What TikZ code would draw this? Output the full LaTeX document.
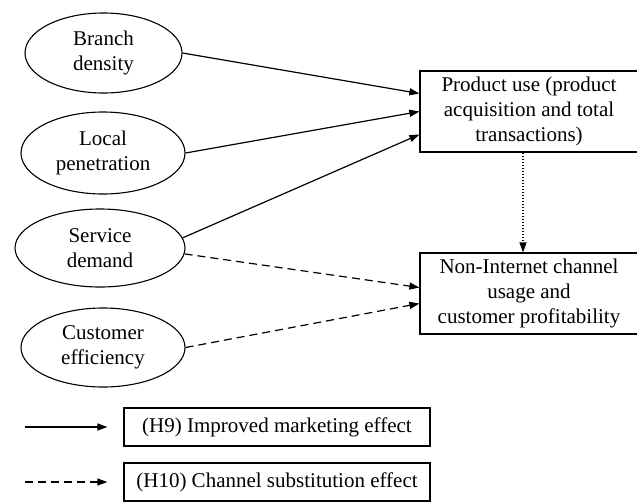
\documentclass[tikz,border=0pt]{standalone}
\usepackage{fontspec}
\setmainfont{Liberation Serif}
\usetikzlibrary{shapes.geometric,arrows.meta}
\tikzset{
  construct/.style={draw, ellipse, line width=1.1pt, inner sep=0pt,
    minimum width=164pt, minimum height=80pt, align=center},
  outcome/.style={draw, rectangle, line width=1.2pt,
    minimum width=218pt, minimum height=81pt, align=center},
  legendbox/.style={draw, rectangle, line width=1.2pt,
    minimum width=306pt, minimum height=38pt},
  effect/.style={line width=1.2pt, -{Triangle[length=10pt,width=7pt]}},
  subst/.style={effect, dash pattern=on 8pt off 5pt},
  mediate/.style={effect, dash pattern=on 1pt off 2pt},
}

\begin{document}
\begin{tikzpicture}[x=1pt, y=-1pt, every node/.style={font=\fontsize{21}{25}\selectfont}]
\useasboundingbox (0,0) rectangle (637,501);
% drivers
\node[construct, minimum width=157pt] (branch) at (103.5,53) {Branch\\density};
\node[construct, minimum height=82pt] (local) at (103,153) {Local\\penetration};
\node[construct, minimum width=170pt, minimum height=78pt] (service) at (100,248) {Service\\demand};
\node[construct, minimum height=79pt] (efficiency) at (103,347.5) {Customer\\efficiency};
% outcomes
\node[outcome] (product) at (529,111.5) {Product use (product\\acquisition and total\\transactions)};
\node[outcome] (channel) at (529,293.5) {Non-Internet channel\\usage and\\customer profitability};

\draw[effect] (branch.east) -- ([yshift=18pt]product.west);
\draw[effect] (local.east) -- (product.west);
\draw[effect] (service.7) -- ([yshift=-23pt]product.west);
\draw[subst] (service.-4) -- ([yshift=6pt]channel.west);
\draw[subst] (efficiency.east) -- ([yshift=-10pt]channel.west);
\draw[mediate] ([xshift=-6pt]product.south) -- ([xshift=-6pt]channel.north);

% legend
\coordinate (solidstart) at (25,427);
\node[legendbox] (improved) at (277,427) {(H9) Improved marketing effect};
\draw[effect] (solidstart) -- ([xshift=-16pt]improved.west);
\coordinate (dashstart) at (25,482);
\node[legendbox] (substitution) at (277,482) {(H10) Channel substitution effect};
\draw[subst] (dashstart) -- ([xshift=-16pt]substitution.west);
\end{tikzpicture}
\end{document}
